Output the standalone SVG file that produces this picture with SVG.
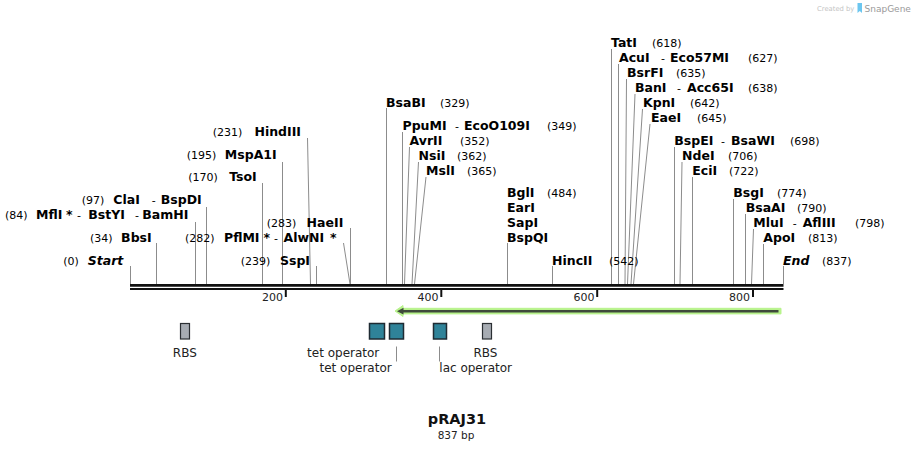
<svg xmlns="http://www.w3.org/2000/svg" width="914" height="450" viewBox="0 0 914 450">
<style>
.b{font-family:"DejaVu Sans",Verdana,sans-serif;font-weight:bold;font-size:12.5px;fill:#000}
.i{font-style:italic}
.n{font-family:"DejaVu Sans",Verdana,sans-serif;font-size:11px;fill:#000}
.h{font-family:"DejaVu Sans",Verdana,sans-serif;font-size:11px;fill:#000}
.site{stroke:#8c8c8c;stroke-width:1;fill:none}
.lead{stroke:#8c8c8c;stroke-width:1;fill:none}
.tick{stroke:#111;stroke-width:2}
.tl{font-family:"DejaVu Sans",Verdana,sans-serif;font-size:11px;fill:#222;text-anchor:end}
.fl{font-family:"DejaVu Sans",Verdana,sans-serif;font-size:12px;fill:#222}
.op{fill:#2f8399;stroke:#1f2b33;stroke-width:1.5}
.rbs{fill:#a7acb3;stroke:#2b2f33;stroke-width:1.2}
</style>
<rect width="914" height="450" fill="#fff"/>

<g id="watermark">
<text x="817" y="11" font-family="'DejaVu Sans',sans-serif" font-size="6.8" fill="#c4c4c4">Created by</text>
<path d="M857.5 3 h4.5 v10 l-2.25 -2 l-2.25 2 z" fill="#6cc6ef"/>
<text x="864.5" y="11.5" font-family="'DejaVu Sans',sans-serif" font-size="9" fill="#9a9a9a">SnapGene</text>
</g>

<g id="connectors">
<line class="site" x1="130.5" y1="266" x2="130.5" y2="284"/>
<line class="site" x1="156.5" y1="243" x2="156.5" y2="284"/>
<line class="site" x1="195.5" y1="222" x2="195.5" y2="284"/>
<line class="site" x1="206.5" y1="207" x2="206.5" y2="284"/>
<line class="site" x1="262.5" y1="183" x2="262.5" y2="284"/>
<line class="site" x1="282.5" y1="162" x2="282.5" y2="284"/>
<line class="site" x1="307.5" y1="138" x2="310.5" y2="284"/>
<line class="site" x1="316.5" y1="266" x2="316.5" y2="284"/>
<line class="site" x1="343.5" y1="243" x2="350" y2="284"/>
<line class="site" x1="350.5" y1="228" x2="350.5" y2="284"/>
<line class="site" x1="386.5" y1="108" x2="386.5" y2="284"/>
<line class="site" x1="402.5" y1="132" x2="402.5" y2="284"/>
<line class="site" x1="409.5" y1="147" x2="404.5" y2="284"/>
<line class="site" x1="418.5" y1="162" x2="412" y2="284"/>
<line class="site" x1="426" y1="177" x2="414.5" y2="284"/>
<line class="site" x1="507.5" y1="243" x2="507.5" y2="284"/>
<line class="site" x1="552.5" y1="266" x2="552.5" y2="284"/>
<line class="site" x1="611.5" y1="49" x2="611.5" y2="284"/>
<line class="site" x1="618.5" y1="64" x2="618.5" y2="284"/>
<line class="site" x1="626.5" y1="79" x2="625" y2="284"/>
<line class="site" x1="635" y1="94" x2="627.5" y2="284"/>
<line class="site" x1="642.5" y1="109" x2="631" y2="284"/>
<line class="site" x1="650" y1="124" x2="633.5" y2="284"/>
<line class="site" x1="674.5" y1="147" x2="674.5" y2="284"/>
<line class="site" x1="682" y1="162" x2="680" y2="284"/>
<line class="site" x1="692.5" y1="177" x2="692.5" y2="284"/>
<line class="site" x1="733.5" y1="199" x2="733.5" y2="284"/>
<line class="site" x1="745.5" y1="214" x2="745.5" y2="284"/>
<line class="site" x1="753.5" y1="229" x2="751.5" y2="284"/>
<line class="site" x1="763.5" y1="244" x2="763.5" y2="284"/>
<line class="site" x1="783.5" y1="266" x2="783.5" y2="284"/>
<line class="lead" x1="396.5" y1="346.5" x2="396.5" y2="361.5"/>
<line class="lead" x1="439.5" y1="346.5" x2="439.5" y2="361.5"/>
</g>

<g id="backbone">
<line x1="130" y1="285.4" x2="783.5" y2="285.4" stroke="#111" stroke-width="2.7"/>
<line x1="130" y1="289" x2="783.5" y2="289" stroke="#111" stroke-width="2"/>
<line class="tick" x1="285.8" y1="290" x2="285.8" y2="297"/>
<line class="tick" x1="441.3" y1="290" x2="441.3" y2="297"/>
<line class="tick" x1="597.2" y1="290" x2="597.2" y2="297"/>
<line class="tick" x1="753" y1="290" x2="753" y2="297"/>
<text class="tl" x="283" y="300.5">200</text>
<text class="tl" x="438.5" y="300.5">400</text>
<text class="tl" x="594.5" y="300.5">600</text>
<text class="tl" x="750" y="300.5">800</text>
</g>

<g id="site-start"><text class="n" x="63.3" y="264.5">(0)</text><text class="b i" x="123.3" y="264.5" text-anchor="end">Start</text></g>
<g id="site-bbsi"><text class="n" x="90" y="241.5">(34)</text><text class="b" x="151.7" y="241.5" text-anchor="end">BbsI</text></g>
<g id="site-mfli"><text class="n" x="5" y="218.5">(84)</text><text y="218.5"><tspan class="b" x="36">MflI</tspan><tspan class="b" x="66">*</tspan><tspan class="h" x="77">-</tspan><tspan class="b" x="88.3">BstYI</tspan><tspan class="h" x="135">-</tspan></text><text class="b" x="188.3" y="218.5" text-anchor="end">BamHI</text></g>
<g id="site-clai"><text class="n" x="81.7" y="203.5">(97)</text><text y="203.5"><tspan class="b" x="113.3">ClaI</tspan><tspan class="h" x="151.7">-</tspan></text><text class="b" x="201.7" y="203.5" text-anchor="end">BspDI</text></g>
<g id="site-tsoi"><text class="n" x="188.3" y="180.5">(170)</text><text class="b" x="256.7" y="180.5" text-anchor="end">TsoI</text></g>
<g id="site-mspa1i"><text class="n" x="186.7" y="158.5">(195)</text><text class="b" x="276.7" y="158.5" text-anchor="end">MspA1I</text></g>
<g id="site-hindiii"><text class="n" x="212.7" y="135.5">(231)</text><text class="b" x="301" y="135.5" text-anchor="end">HindIII</text></g>
<g id="site-sspi"><text class="n" x="240.7" y="264.5">(239)</text><text class="b" x="310" y="264.5" text-anchor="end">SspI</text></g>
<g id="site-pflmi"><text class="n" x="185" y="241.5">(282)</text><text y="241.5"><tspan class="b" x="224">PflMI</tspan><tspan class="b" x="263.5">*</tspan><tspan class="h" x="274">-</tspan><tspan class="b" x="283.5">AlwNI</tspan><tspan class="b" x="330">*</tspan></text></g>
<g id="site-haeii"><text class="n" x="266.7" y="226.5">(283)</text><text class="b" x="343.3" y="226.5" text-anchor="end">HaeII</text></g>

<g id="site-bsabi"><text y="106.5"><tspan class="b" x="386">BsaBI</tspan><tspan class="n" x="440">(329)</tspan></text></g>
<g id="site-ppumi"><text y="129.5"><tspan class="b" x="402.5">PpuMI</tspan><tspan class="h" x="455">-</tspan><tspan class="b" x="464">EcoO109I</tspan><tspan class="n" x="547">(349)</tspan></text></g>
<g id="site-avrii"><text y="144.5"><tspan class="b" x="409.5">AvrII</tspan><tspan class="n" x="460">(352)</tspan></text></g>
<g id="site-nsii"><text y="159.5"><tspan class="b" x="418.5">NsiI</tspan><tspan class="n" x="457">(362)</tspan></text></g>
<g id="site-msli"><text y="174.5"><tspan class="b" x="426">MslI</tspan><tspan class="n" x="467">(365)</tspan></text></g>
<g id="site-bgli"><text y="196.5"><tspan class="b" x="507">BglI</tspan><tspan class="n" x="547">(484)</tspan></text><text class="b" x="507" y="211.5">EarI</text><text class="b" x="507" y="226.5">SapI</text><text class="b" x="507" y="241.5">BspQI</text></g>
<g id="site-hincii"><text y="264.5"><tspan class="b" x="552">HincII</tspan><tspan class="n" x="609">(542)</tspan></text></g>
<g id="site-tati"><text y="46.5"><tspan class="b" x="611">TatI</tspan><tspan class="n" x="652">(618)</tspan></text></g>
<g id="site-acui"><text y="61.5"><tspan class="b" x="619">AcuI</tspan><tspan class="h" x="661">-</tspan><tspan class="b" x="670">Eco57MI</tspan><tspan class="n" x="748">(627)</tspan></text></g>
<g id="site-bsrfi"><text y="76.5"><tspan class="b" x="627">BsrFI</tspan><tspan class="n" x="676">(635)</tspan></text></g>
<g id="site-bani"><text y="91.5"><tspan class="b" x="635">BanI</tspan><tspan class="h" x="677">-</tspan><tspan class="b" x="687">Acc65I</tspan><tspan class="n" x="748">(638)</tspan></text></g>
<g id="site-kpni"><text y="106.5"><tspan class="b" x="643">KpnI</tspan><tspan class="n" x="690">(642)</tspan></text></g>
<g id="site-eaei"><text y="121.5"><tspan class="b" x="651">EaeI</tspan><tspan class="n" x="697">(645)</tspan></text></g>
<g id="site-bspei"><text y="144.5"><tspan class="b" x="674.3">BspEI</tspan><tspan class="h" x="721">-</tspan><tspan class="b" x="731">BsaWI</tspan><tspan class="n" x="790">(698)</tspan></text></g>
<g id="site-ndei"><text y="159.5"><tspan class="b" x="682">NdeI</tspan><tspan class="n" x="728">(706)</tspan></text></g>
<g id="site-ecii"><text y="174.5"><tspan class="b" x="692.3">EciI</tspan><tspan class="n" x="729">(722)</tspan></text></g>
<g id="site-bsgi"><text y="196.5"><tspan class="b" x="733.3">BsgI</tspan><tspan class="n" x="777">(774)</tspan></text></g>
<g id="site-bsaai"><text y="211.5"><tspan class="b" x="745.7">BsaAI</tspan><tspan class="n" x="797">(790)</tspan></text></g>
<g id="site-mlui"><text y="226.5"><tspan class="b" x="753.3">MluI</tspan><tspan class="h" x="792.7">-</tspan><tspan class="b" x="802.7">AflIII</tspan><tspan class="n" x="855">(798)</tspan></text></g>
<g id="site-apoi"><text y="241.5"><tspan class="b" x="763.3">ApoI</tspan><tspan class="n" x="808">(813)</tspan></text></g>
<g id="site-end"><text y="264.5"><tspan class="b i" x="783">End</tspan><tspan class="n" x="822">(837)</tspan></text></g>

<g id="feature-arrow">
<path d="M395 311 L403 305.5 L403 308.3 L781 308.3 L781 313.9 L403 313.9 L403 316.5 Z" fill="#b8f38c" stroke="#b8f38c" stroke-width="1" stroke-linejoin="round"/>
<line x1="401" y1="311.2" x2="778.5" y2="311.2" stroke="#3f4a3b" stroke-width="2.4"/>
<path d="M397 311.2 L403.5 307.8 L403.5 314.6 Z" fill="#3f4a3b"/>
</g>

<g id="feature-rbs1"><rect class="rbs" x="180.5" y="323.5" width="9" height="15.5"/><text class="fl" x="184.8" y="356.5" text-anchor="middle">RBS</text></g>
<g id="feature-tet1"><rect class="op" x="369.5" y="323.5" width="15" height="15.5"/><text class="fl" x="379.3" y="356.5" text-anchor="end">tet operator</text></g>
<g id="feature-tet2"><rect class="op" x="389.5" y="323.5" width="14" height="15.5"/><text class="fl" x="391.7" y="372" text-anchor="end">tet operator</text></g>
<g id="feature-lac"><rect class="op" x="433.5" y="323.5" width="13" height="15.5"/><text class="fl" x="439.3" y="372">lac operator</text></g>
<g id="feature-rbs2"><rect class="rbs" x="482.5" y="323.5" width="9" height="15.5"/><text class="fl" x="485.5" y="356.5" text-anchor="middle">RBS</text></g>

<g id="title">
<text x="457" y="423.5" text-anchor="middle" font-family="'DejaVu Sans',Verdana,sans-serif" font-weight="bold" font-size="14.5" fill="#111">pRAJ31</text>
<text x="456" y="438.5" text-anchor="middle" font-family="'DejaVu Sans',Verdana,sans-serif" font-size="10.5" fill="#222">837 bp</text>
</g>
</svg>
